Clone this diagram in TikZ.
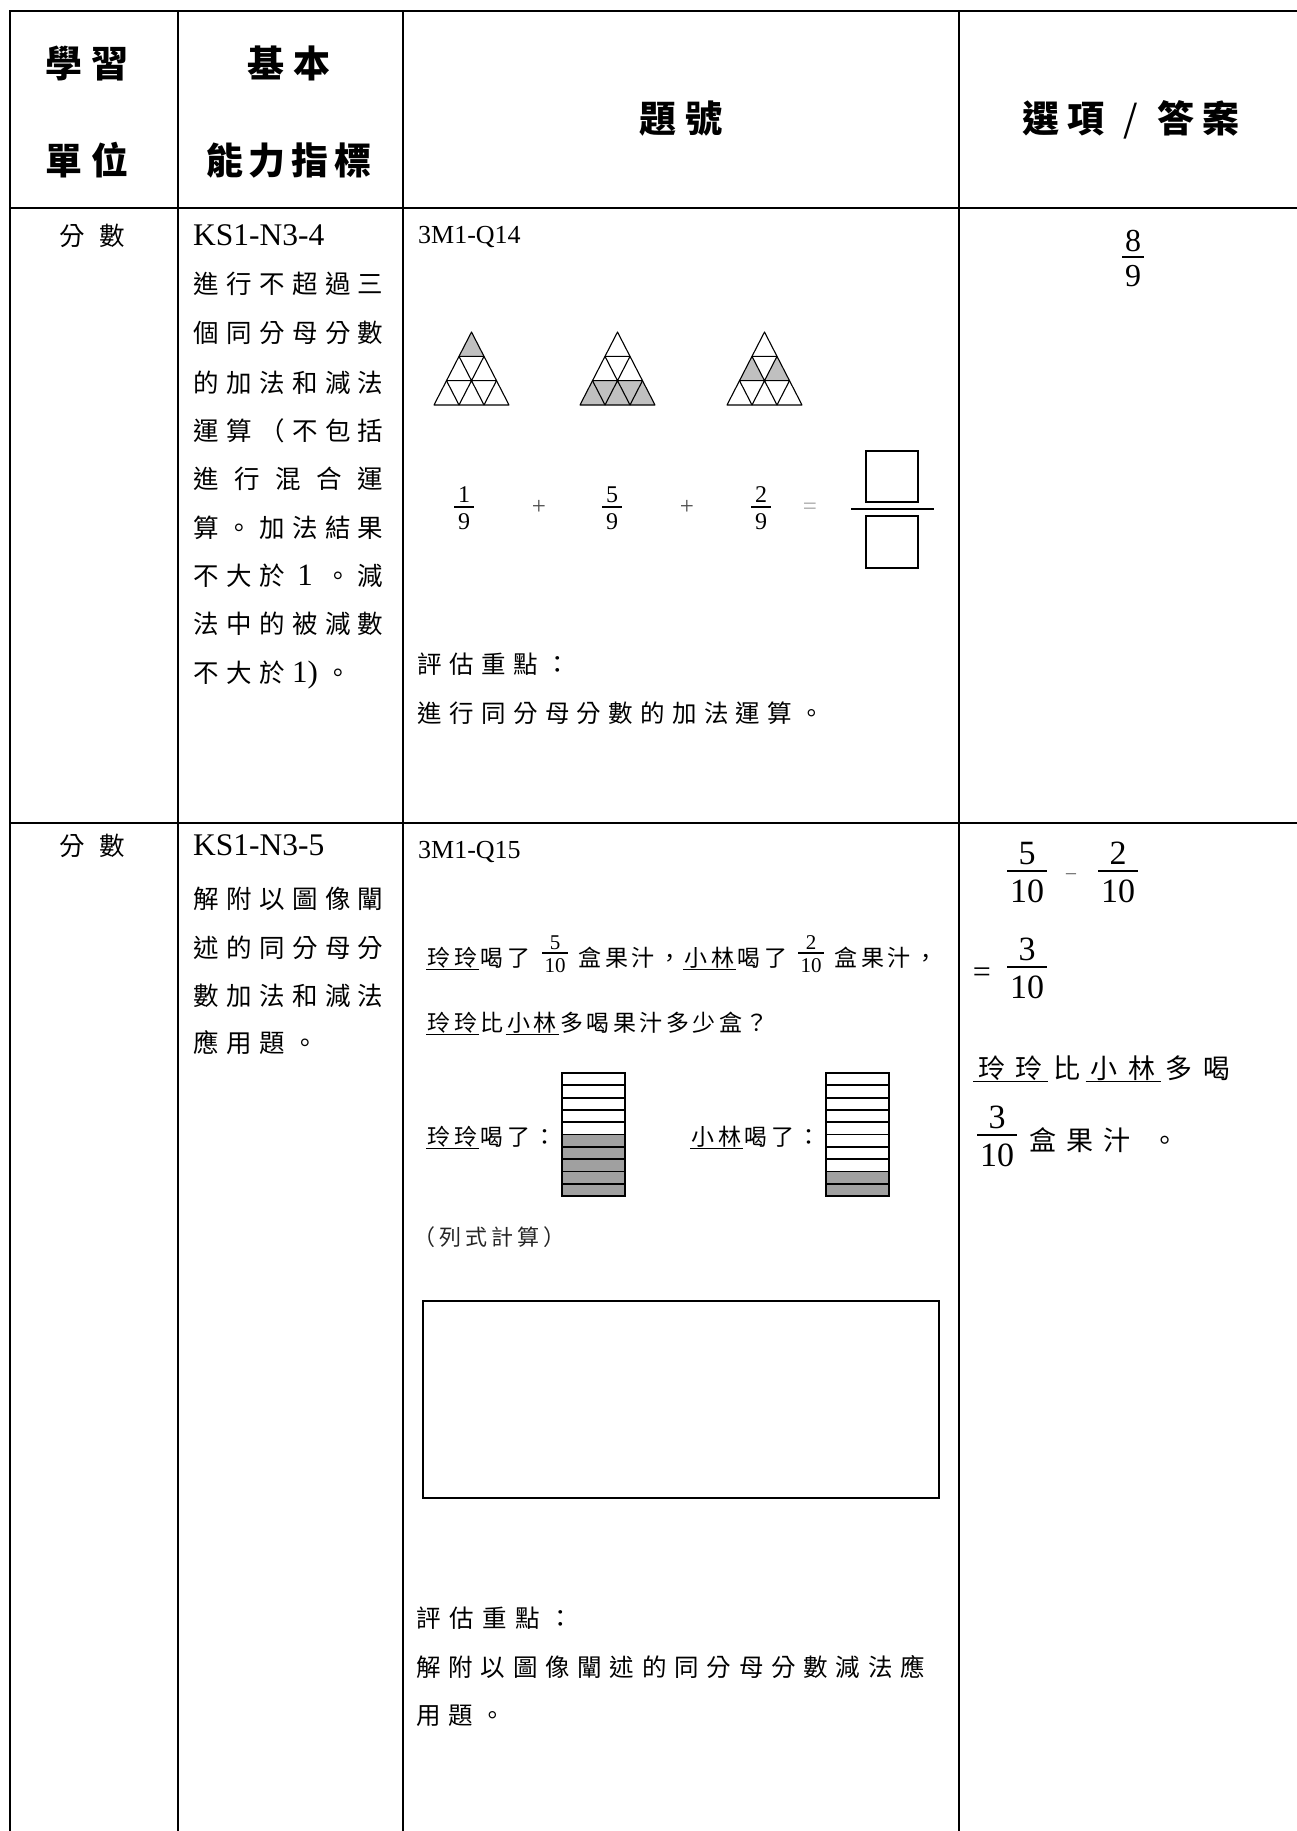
\documentclass[tikz,border=0pt]{standalone}
\usepackage{fontspec}
\setmainfont{Liberation Serif}
\newfontfamily\cjk{Noto Sans CJK TC}
\definecolor{trig}{RGB}{192,192,192}
\definecolor{barg}{RGB}{160,160,160}
\makeatletter
\newcommand\pit[2]{\def\pit@w{#1}\pit@loop#2\relax}
\def\pit@loop#1{\ifx#1\relax\else\makebox[\pit@w][c]{#1}\expandafter\pit@loop\fi}
\makeatother
\newcommand\myfr[7]{%
 \draw[line width=1.1pt] ({#2-#7},#3) -- ({#2+#7},#3);
 \node[inner sep=0pt, anchor=base, font=\fontsize{#6pt}{#6pt}\selectfont] (#1n) at (#2,{#3-0.18*#6}) {#4};
 \node[inner sep=0pt, anchor=base, font=\fontsize{#6pt}{#6pt}\selectfont] (#1d) at (#2,{#3+0.93*#6}) {#5};}
\newcommand\trigrid[3]{\begin{scope}[shift={(#1,#2)}, x=25pt, y=24.33pt]
 #3
 \draw[tri] (0,0) -- (3,0) -- (1.5,3) -- cycle;
 \draw[tri] (0.5,1) -- (2.5,1) (1,2) -- (2,2) (1,0) -- (2,2) (2,0) -- (2.5,1) (2,0) -- (1,2) (1,0) -- (0.5,1);
\end{scope}}
\newcommand\juicebar[2]{%
 \fill[barg] (#1,{1196-#2*12.3}) rectangle ({#1+63},1196);
 \foreach \k in {1,...,9} \draw[barline] (#1,{1073+\k*12.3}) -- ({#1+63},{1073+\k*12.3});
 \draw[barline] (#1,1073) rectangle ({#1+63},1196);}
\newcommand\one{\rmfamily\fontsize{31pt}{31pt}\selectfont 1}
\tikzset{
 grid/.style={line width=2pt, line cap=rect},
 hdr/.style={inner sep=0pt, anchor=base, font={\cjk\bfseries\fontsize{37pt}{37pt}\selectfont}},
 cn/.style={inner sep=0pt, anchor=base west, font={\cjk\fontsize{25.5pt}{25.5pt}\selectfont}},
 qn/.style={inner sep=0pt, anchor=base west, font={\cjk\fontsize{23pt}{23pt}\selectfont}},
 pn/.style={inner sep=0pt, anchor=base west, font={\cjk\fontsize{24.5pt}{24.5pt}\selectfont}},
 an/.style={inner sep=0pt, anchor=base west, font={\cjk\fontsize{27pt}{27pt}\selectfont}},
 en/.style={inner sep=0pt, anchor=base west},
 tri/.style={line width=1.1pt, line join=round},
 barline/.style={line width=1.8pt},
 ansbox/.style={line width=1.3pt},
}
\begin{document}
\begin{tikzpicture}[x=1pt,y=-1pt]
\useasboundingbox (0,0) rectangle (1296,1831);
% table grid
\draw[grid] (10,11) -- (1296,11);
\draw[grid] (10,208) -- (1296,208);
\draw[grid] (10,823) -- (1296,823);
\draw[grid] (10,11) -- (10,1831);
\draw[grid] (178,11) -- (178,1831);
\draw[grid] (403,11) -- (403,1831);
\draw[grid] (959,11) -- (959,1831);
% header
\node[hdr] (h1a) at (87,77) {\pit{47pt}{學習}};
\node[hdr] (h1b) at (87,174) {\pit{47pt}{單位}};
\node[hdr] (h2a) at (289,77) {\pit{47pt}{基本}};
\node[hdr] (h2b) at (289,174) {\pit{43pt}{能力指標}};
\node[hdr] (h3) at (681,132) {\pit{47pt}{題號}};
\node[hdr] (h4) at (1131,132) {\pit{45pt}{選項{\mdseries/}答案}};
% row 1
\node[cn, anchor=base] (u1) at (92,245) {\pit{40pt}{分數}};
\node[en, font=\fontsize{31.5pt}{31.5pt}\selectfont] (k1) at (193,245) {KS1-N3-4};
\node[cn] (k1a) at (190,293) {\pit{32.8pt}{進行不超過三}};
\node[cn] (k1b) at (190,342) {\pit{32.8pt}{個同分母分數}};
\node[cn] (k1c) at (190,392) {\pit{32.8pt}{的加法和減法}};
\node[cn] (k1d) at (190,440) {\pit{32.8pt}{運算（不包括}};
\node[cn] (k1e) at (186,488) {\pit{41pt}{進行混合運}};
\node[cn] (k1f) at (190,537) {\pit{32.8pt}{算。加法結果}};
\node[cn] (k1g) at (190,585) {\pit{32.8pt}{不大於{\one}。減}};
\node[cn] (k1h) at (190,633) {\pit{32.8pt}{法中的被減數}};
\node[cn] (k1i) at (190,682) {\pit{32.8pt}{不大於{\one)}。}};
\node[en, font=\fontsize{26pt}{26pt}\selectfont] (q1) at (418,243) {3M1-Q14};
\trigrid{434}{405}{\fill[trig] (1,2) -- (2,2) -- (1.5,3) -- cycle;}
\trigrid{580}{405}{\fill[trig] (0,0) -- (3,0) -- (2.5,1) -- (0.5,1) -- cycle;}
\trigrid{727}{405}{\fill[trig] (0.5,1) -- (1.5,1) -- (1,2) -- cycle (1.5,1) -- (2.5,1) -- (2,2) -- cycle;}
\myfr{f1}{464}{507}{1}{9}{24}{10}
\node[inner sep=0pt, text=black!70, font=\fontsize{25pt}{25pt}\selectfont] (p1) at (539,507) {+};
\myfr{f2}{612}{507}{5}{9}{24}{10}
\node[inner sep=0pt, text=black!70, font=\fontsize{25pt}{25pt}\selectfont] (p2) at (687,507) {+};
\myfr{f3}{761}{507}{2}{9}{24}{10}
\node[inner sep=0pt, anchor=base, text=black!35, font=\fontsize{25pt}{25pt}\selectfont] (eq1) at (810,514) {=};
\draw[line width=1.4pt] (851,509) -- (934,509);
\draw[ansbox] (866,451) rectangle (918,502);
\draw[ansbox] (866,516) rectangle (918,568);
\node[pn] (e1) at (414,673) {\pit{32pt}{評估重點：}};
\node[pn] (e1b) at (414,722) {\pit{31.8pt}{進行同分母分數的加法運算。}};
\myfr{a1}{1133}{257}{8}{9}{32}{11}
% row 2
\node[cn, anchor=base] (u2) at (92,855) {\pit{40pt}{分數}};
\node[en, font=\fontsize{31.5pt}{31.5pt}\selectfont] (k2) at (193,855) {KS1-N3-5};
\node[cn] (k2a) at (190,908) {\pit{32.8pt}{解附以圖像闡}};
\node[cn] (k2b) at (190,957) {\pit{32.8pt}{述的同分母分}};
\node[cn] (k2c) at (190,1005) {\pit{32.8pt}{數加法和減法}};
\node[cn] (k2d) at (190,1052) {\pit{32.8pt}{應用題。}};
\node[en, font=\fontsize{26pt}{26pt}\selectfont] (q2) at (418,858) {3M1-Q15};
\node[qn] (l1a) at (426,966) {\underline{\pit{26.5pt}{玲玲}}\pit{26.5pt}{喝了}};
\myfr{fq1}{555}{953}{5}{10}{21}{13}
\node[qn] (l1b) at (577,966) {\pit{26.5pt}{盒果汁，}\underline{\pit{26.5pt}{小林}}\pit{26.5pt}{喝了}};
\myfr{fq2}{811}{953}{2}{10}{21}{13}
\node[qn] (l1c) at (833,966) {\pit{26.5pt}{盒果汁，}};
\node[qn] (l2) at (426,1031) {\underline{\pit{26.5pt}{玲玲}}\pit{26.5pt}{比}\underline{\pit{26.5pt}{小林}}\pit{26.5pt}{多喝果汁多少盒？}};
\node[qn] (bl1) at (426,1145) {\underline{\pit{26.5pt}{玲玲}}\pit{26.5pt}{喝了：}};
\node[qn] (bl2) at (690,1145) {\underline{\pit{26.5pt}{小林}}\pit{26.5pt}{喝了：}};
\juicebar{562}{5}
\juicebar{826}{2}
\node[qn, text=black!85, font={\cjk\fontsize{22pt}{22pt}\selectfont}] (calc) at (411,1245) {\pit{26pt}{（列式計算）}};
\draw[line width=1.4pt] (423,1301) rectangle (939,1498);
\node[pn] (e2) at (412,1627) {\pit{33pt}{評估重點：}};
\node[pn] (e2b) at (412,1676) {\pit{32.3pt}{解附以圖像闡述的同分母分數減法應}};
\node[pn] (e2c) at (412,1724) {\pit{32.3pt}{用題。}};
% answers row 2
\myfr{a2}{1027}{871}{5}{10}{34}{20}
\node[inner sep=0pt, text=black!60, font=\fontsize{22pt}{22pt}\selectfont] (mn) at (1071,878) {−};
\myfr{a3}{1118}{871}{2}{10}{34}{20}
\node[inner sep=0pt, anchor=base, font=\fontsize{32pt}{32pt}\selectfont] (eq2) at (982,982) {=};
\myfr{a4}{1027}{967}{3}{10}{34}{20}
\node[an] (ans1) at (973,1078) {\underline{\pit{37.5pt}{玲玲}}\pit{37.5pt}{比}\underline{\pit{37.5pt}{小林}}\pit{37.5pt}{多喝}};
\myfr{a5}{997}{1135}{3}{10}{34}{20}
\node[an] (ans2) at (1024,1150) {\pit{37pt}{盒果汁}};
\node[an, anchor=base] (ans3) at (1165,1150) {。};
\end{tikzpicture}
\end{document}
